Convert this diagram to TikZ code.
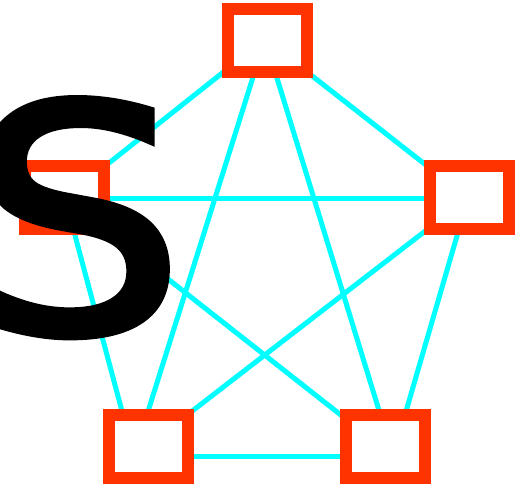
\documentclass[tikz,border=0pt]{standalone}
\usepackage{fontspec}
\newfontfamily\letterfont[FakeBold=2.5, FakeStretch=1.1]{DejaVu Sans}
\definecolor{boxred}{RGB}{255,51,0}
\definecolor{linkcyan}{RGB}{0,255,255}

\begin{document}
\begin{tikzpicture}[
    x=1pt, y=-1pt,
    vbox/.style={draw=boxred, fill=white, line width=12pt, minimum width=79pt, minimum height=63pt, inner sep=0pt},
    link/.style={draw=linkcyan, line width=5pt},
    bigletter/.style={font=\letterfont\fontsize{314}{314}\selectfont, inner sep=0pt, anchor=base}
]
\useasboundingbox (0,0) rectangle (523,487);

\coordinate (pT) at (265,39);
\coordinate (pL) at (65,198);
\coordinate (pR) at (468,198);
\coordinate (pBL) at (134,456);
\coordinate (pBR) at (393,456);

\foreach \a/\b in {pT/pL, pT/pR, pT/pBL, pT/pBR, pL/pR, pL/pBL, pL/pBR, pR/pBL, pR/pBR, pBL/pBR}
    \draw[link] (\a) -- (\b);

\node[vbox] (T) at (267,40.5) {};
\node[vbox] (L) at (64.5,197.5) {};
\node[vbox] (R) at (469.5,197.5) {};
\node[vbox] (BL) at (148,446) {};
\node[vbox] (BR) at (385,446) {};

\node[bigletter] (S) at (75.5,332) {S};
\end{tikzpicture}
\end{document}
